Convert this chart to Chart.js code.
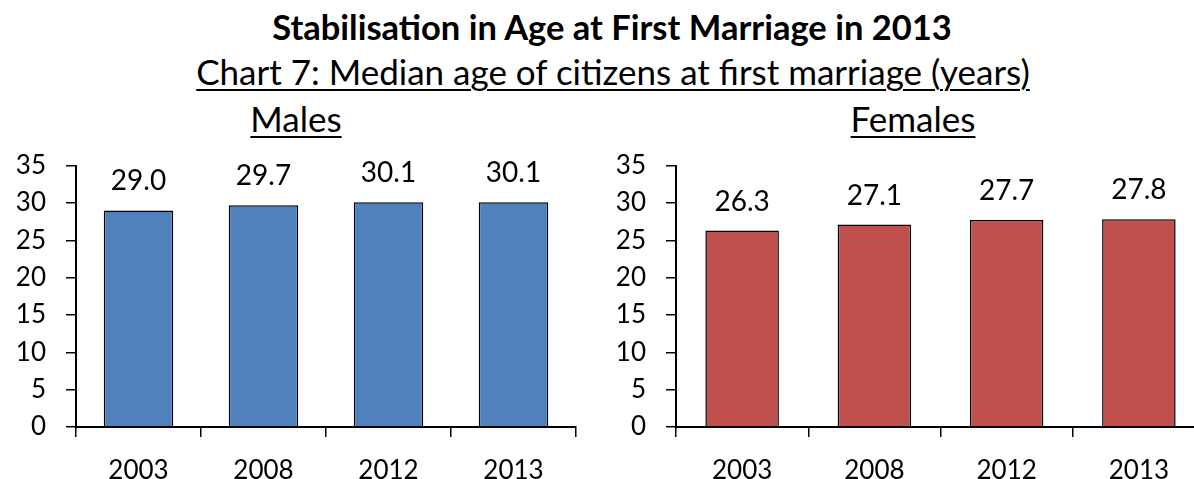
<!DOCTYPE html>
<html>
<head>
<meta charset="utf-8">
<script src="https://cdn.jsdelivr.net/npm/chart.js@4"></script>
<style>
  html, body { margin: 0; padding: 0; background: #fff; overflow: hidden; }
  body { width: 1194px; height: 479px; position: relative; font-family: Lato, "Open Sans", sans-serif; color: #000; }
  .txt { position: absolute; white-space: nowrap; transform: translateX(-50%); line-height: 1; }
  .u { text-decoration: underline; text-decoration-thickness: 2px; text-underline-offset: 4px; }
  #title { left: 612px; top: 10px; font-size: 34.5px; font-weight: bold; }
  #sub { left: 613px; top: 54px; font-size: 35px; }
  #males { left: 296px; top: 101px; font-size: 35px; }
  #females { left: 913px; top: 101px; font-size: 35px; }
  #c1 { position: absolute; left: 0; top: 130px; }
  #c2 { position: absolute; left: 600px; top: 130px; }
</style>
</head>
<body>
<div id="title" class="txt">Stabilisation in Age at First Marriage in 2013</div>
<div id="sub" class="txt u">Chart 7: Median age of citizens at first marriage (years)</div>
<div id="males" class="txt u">Males</div>
<div id="females" class="txt u">Females</div>
<canvas id="c1" width="600" height="349"></canvas>
<canvas id="c2" width="640" height="349"></canvas>
<script>
const years = ['2003', '2008', '2012', '2013'];
const maleAge = [29.0, 29.7, 30.1, 30.1];
const femaleAge = [26.3, 27.1, 27.7, 27.8];
const yMax = 35;
const yStep = 5;

const font = 'Lato, "Open Sans", sans-serif';

// values printed above each bar
const barLabels = {
  id: 'barLabels',
  afterDatasetsDraw(chart) {
    const ctx = chart.ctx;
    ctx.save();
    ctx.font = '28px ' + font;
    ctx.fillStyle = '#000';
    ctx.textAlign = 'center';
    ctx.textBaseline = 'middle';
    chart.getDatasetMeta(0).data.forEach((bar, i) => {
      const v = chart.data.datasets[0].data[i];
      ctx.fillText(v.toFixed(1), bar.x, bar.y - 29);
    });
    ctx.restore();
  }
};

function makeChart(id, values, colour, rightPad) {
  return new Chart(document.getElementById(id), {
    type: 'bar',
    data: {
      labels: years,
      datasets: [{
        data: values,
        backgroundColor: colour,
        borderColor: '#000',
        borderWidth: 1.5,
        barPercentage: 0.556,
        categoryPercentage: 1
      }]
    },
    options: {
      responsive: false,
      animation: false,
      layout: { padding: { top: 35, right: rightPad, left: 0, bottom: 0 } },
      plugins: { legend: { display: false }, tooltip: { enabled: false } },
      scales: {
        x: {
          grid: { offset: true, drawOnChartArea: false, drawTicks: true, tickLength: 10, color: '#000', lineWidth: 1.5 },
          border: { display: true, color: '#000', width: 2 },
          ticks: { color: '#000', font: { family: font, size: 26 }, padding: 18, maxRotation: 0 },
          afterFit(s) { s.height = 52; }
        },
        y: {
          min: 0,
          max: yMax,
          grid: { drawOnChartArea: false, drawTicks: true, tickLength: 10, color: '#000', lineWidth: 1.5 },
          border: { display: true, color: '#000', width: 2 },
          ticks: { stepSize: yStep, color: '#000', font: { family: font, size: 26 }, padding: 20 },
          afterFit(s) { s.width = 76; }
        }
      }
    },
    plugins: [barLabels]
  });
}

makeChart('c1', maleAge, '#4F81BD', 24);
makeChart('c2', femaleAge, '#C0504D', 35);
</script>
</body>
</html>
